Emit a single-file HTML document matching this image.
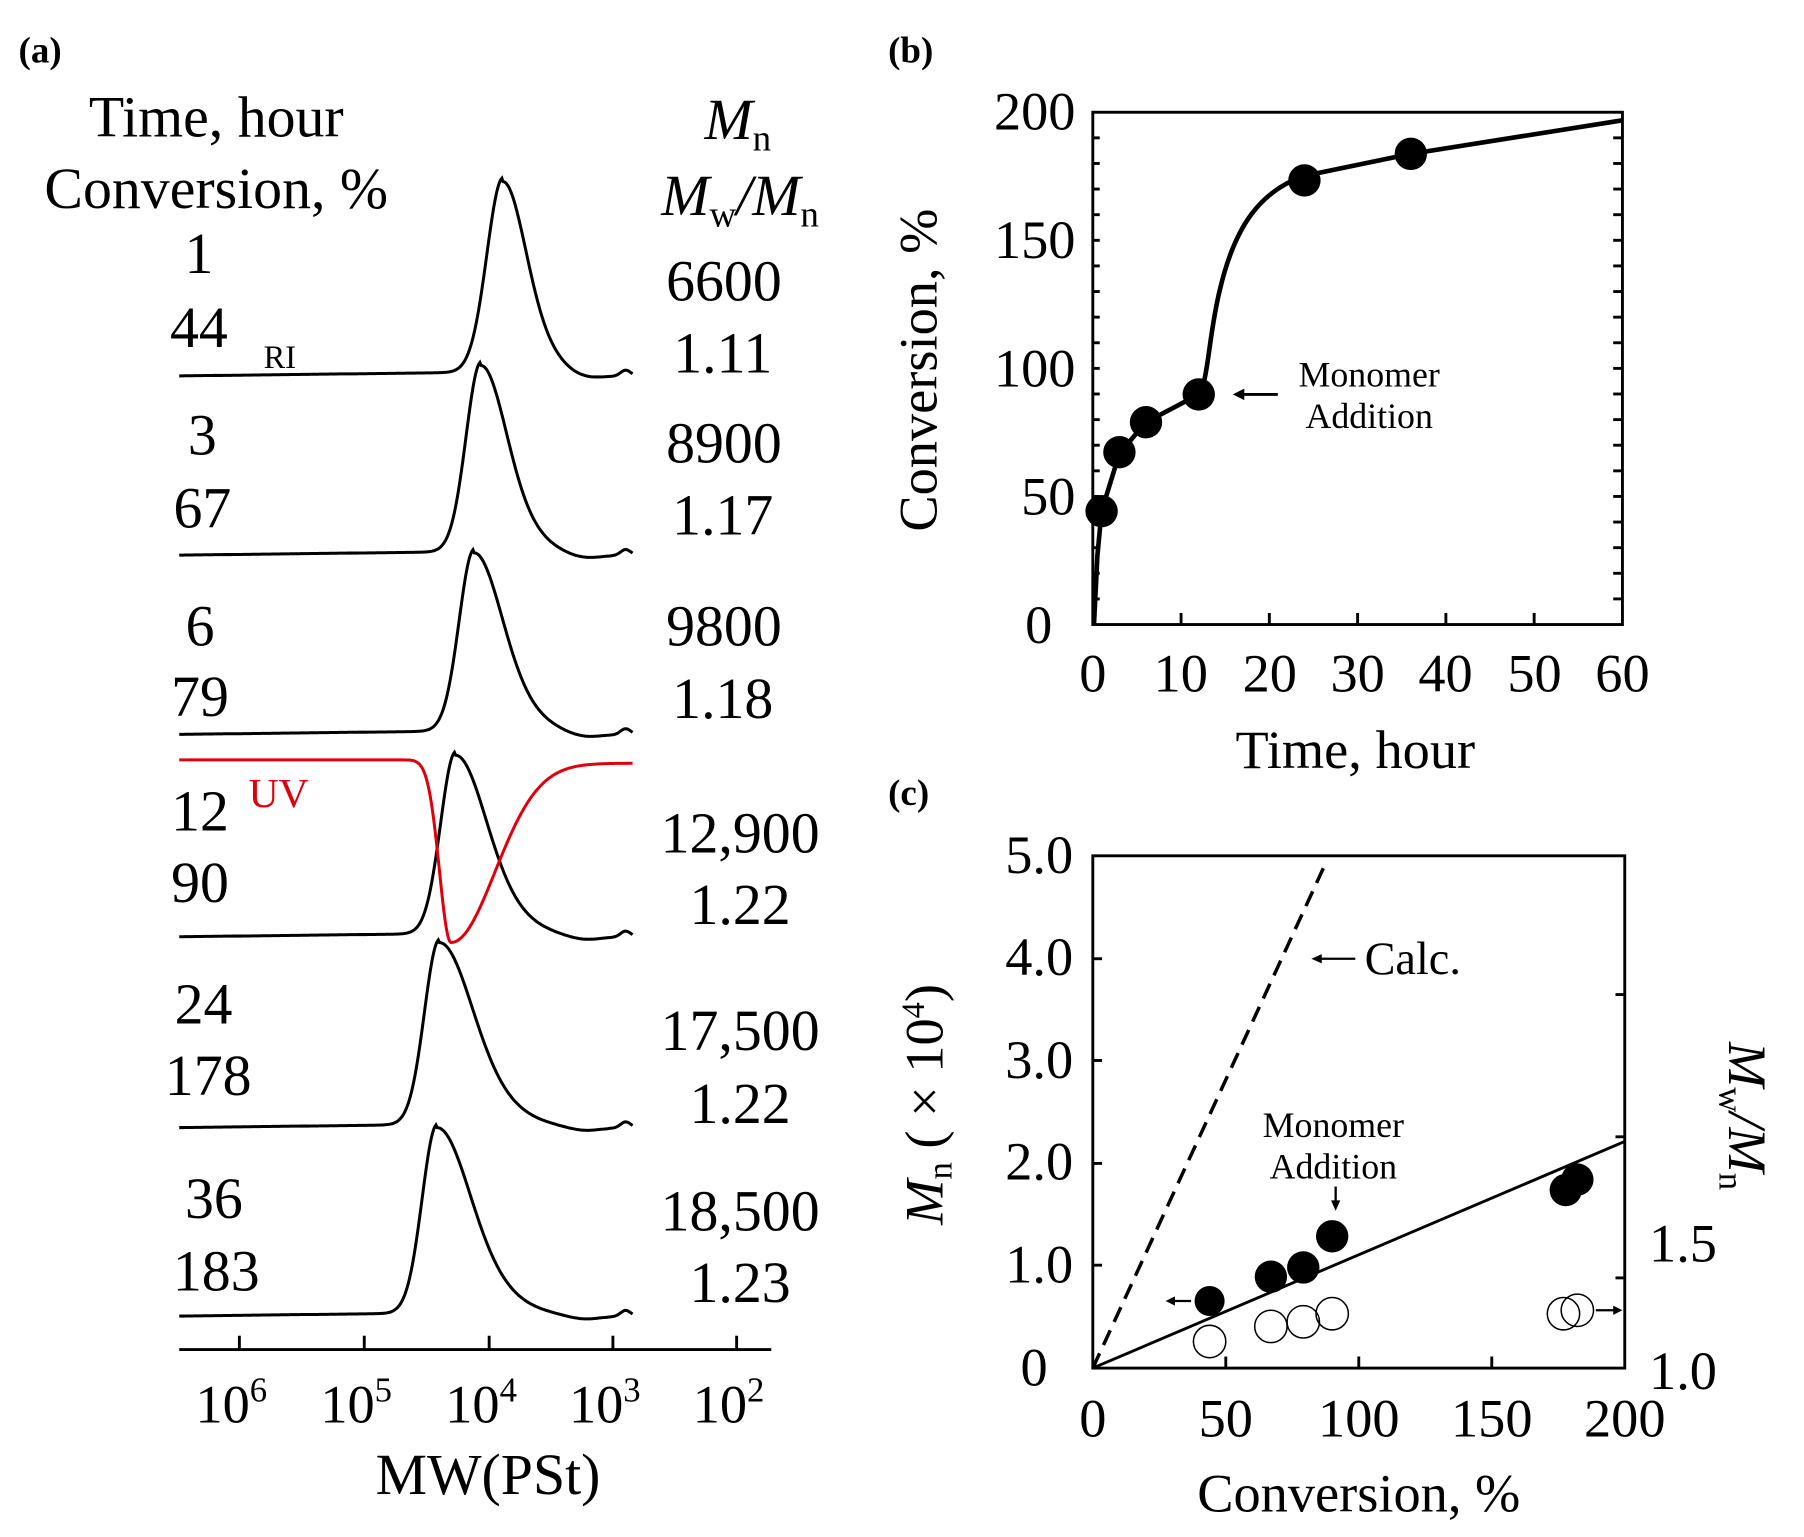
<!DOCTYPE html>
<html><head><meta charset="utf-8"><style>
html,body{margin:0;padding:0;background:#fff;}
svg{display:block;}
text{font-family:"Liberation Serif",serif;fill:#000;}
</style></head><body>
<svg id="s" width="1804" height="1537" viewBox="0 0 1560 1329" xmlns="http://www.w3.org/2000/svg">
<g id="traces" fill="none" stroke="#000" stroke-width="2.6"></g>
<text x="16" y="54" font-size="32" font-weight="bold">(a)</text>
<text x="768" y="54" font-size="32" font-weight="bold">(b)</text>
<text x="768" y="696" font-size="32" font-weight="bold">(c)</text>
<g font-size="50" text-anchor="middle">
<text x="187" y="118">Time, hour</text>
<text x="187" y="180">Conversion, %</text>
<text x="172" y="236">1</text><text x="172" y="300">44</text>
<text x="175" y="393">3</text><text x="175" y="456">67</text>
<text x="173" y="558">6</text><text x="173" y="619">79</text>
<text x="173" y="718">12</text><text x="173" y="780">90</text>
<text x="176" y="885">24</text><text x="180" y="947">178</text>
<text x="185" y="1053">36</text><text x="187" y="1116">183</text>
<text x="626" y="260">6600</text><text x="625" y="322">1.11</text>
<text x="626" y="400">8900</text><text x="625" y="462">1.17</text>
<text x="626" y="558">9800</text><text x="625" y="621">1.18</text>
<text x="640" y="737">12,900</text><text x="640" y="799">1.22</text>
<text x="640" y="908">17,500</text><text x="640" y="971">1.22</text>
<text x="640" y="1064">18,500</text><text x="640" y="1126">1.23</text>
<text x="638" y="120" font-style="italic">M<tspan font-size="32" dy="10" font-style="normal">n</tspan></text>
<text x="640" y="186" font-style="italic">M<tspan font-size="32" dy="10" font-style="normal">w</tspan><tspan dy="-10">/M</tspan><tspan font-size="32" dy="10" font-style="normal">n</tspan></text>
<text x="422" y="1292">MW(PSt)</text>
</g>
<text x="228" y="318" font-size="28">RI</text>
<text x="215" y="698" font-size="36" style="fill:#e0000b">UV</text>
<g stroke="#000" stroke-width="2.5">
<line x1="155" y1="1167" x2="667" y2="1167"/>
<line x1="207" y1="1167" x2="207" y2="1155"/><line x1="315" y1="1167" x2="315" y2="1155"/>
<line x1="423" y1="1167" x2="423" y2="1155"/><line x1="530" y1="1167" x2="530" y2="1155"/>
<line x1="637" y1="1167" x2="637" y2="1155"/>
</g>
<g font-size="47" text-anchor="middle">
<text x="200" y="1230">10<tspan font-size="30" dy="-18">6</tspan></text>
<text x="308" y="1230">10<tspan font-size="30" dy="-18">5</tspan></text>
<text x="416" y="1230">10<tspan font-size="30" dy="-18">4</tspan></text>
<text x="523" y="1230">10<tspan font-size="30" dy="-18">3</tspan></text>
<text x="630" y="1230">10<tspan font-size="30" dy="-18">2</tspan></text>
</g>
<g id="pb" stroke="#000" stroke-width="2.5" fill="none">
<rect x="945" y="97" width="458" height="443"/>
</g>
<g font-size="47" text-anchor="end">
<text x="930" y="112">200</text><text x="930" y="223">150</text><text x="930" y="334">100</text>
<text x="930" y="445">50</text><text x="910" y="556">0</text>
</g>
<g font-size="47" text-anchor="middle">
<text x="945" y="598">0</text><text x="1021" y="598">10</text><text x="1098" y="598">20</text>
<text x="1174" y="598">30</text><text x="1250" y="598">40</text><text x="1327" y="598">50</text><text x="1403" y="598">60</text>
<text x="1172" y="664">Time, hour</text>
<text transform="translate(810,320) rotate(-90)">Conversion, %</text>
</g>
<path d="M946,540 L949,480 L952.6,442 L968,392 L991,365 L1036.6,341 C1045,330 1045,290 1055,250 C1068,195 1090,165 1128,152 L1220,133 L1403,104" fill="none" stroke="#000" stroke-width="4"/>
<g fill="#000">
<circle cx="952.6" cy="442" r="14"/><circle cx="968" cy="391" r="14"/><circle cx="991" cy="365" r="14"/>
<circle cx="1036.6" cy="341" r="14"/><circle cx="1128" cy="156" r="14"/><circle cx="1220" cy="133" r="14"/>
</g>
<g font-size="31" text-anchor="middle">
<text x="1184" y="334">Monomer</text><text x="1184" y="370">Addition</text>
</g>
<line x1="1105" y1="341" x2="1072" y2="341" stroke="#000" stroke-width="2.5"/>
<path d="M1066,341 L1076,336 L1076,346 Z" fill="#000"/>
<g id="pc" stroke="#000" stroke-width="2.5" fill="none">
<rect x="945" y="740" width="460" height="443"/>
<line x1="945" y1="1183" x2="1405" y2="987"/>
<line x1="945" y1="1183" x2="1147" y2="745" stroke-dasharray="14,8" stroke-width="3"/>
</g>
<g fill="#000">
<circle cx="1046" cy="1125" r="13"/><circle cx="1099" cy="1104" r="14"/><circle cx="1127" cy="1096" r="14"/>
<circle cx="1152" cy="1069" r="14"/><circle cx="1354" cy="1029" r="14"/><circle cx="1364" cy="1020" r="14"/>
</g>
<g fill="none" stroke="#000" stroke-width="1.3">
<circle cx="1046" cy="1160" r="14"/><circle cx="1099" cy="1147" r="14"/><circle cx="1127" cy="1143" r="14"/>
<circle cx="1152" cy="1136" r="14"/><circle cx="1352" cy="1136" r="14"/><circle cx="1364" cy="1133" r="14"/>
</g>
<g stroke="#000" stroke-width="2">
<line x1="1030" y1="1125" x2="1014" y2="1125"/><line x1="1380" y1="1133" x2="1396" y2="1133"/>
<line x1="1155" y1="1026" x2="1155" y2="1042"/>
<line x1="1172" y1="829" x2="1140" y2="829"/>
</g>
<g fill="#000">
<path d="M1008,1125 L1016,1121 L1016,1129 Z"/><path d="M1403,1133 L1395,1129 L1395,1137 Z"/>
<path d="M1155,1047 L1151,1038 L1159,1038 Z"/><path d="M1134,829 L1143,825 L1143,833 Z"/>
</g>
<text x="1180" y="842" font-size="40">Calc.</text>
<g font-size="31" text-anchor="middle">
<text x="1153" y="983">Monomer</text><text x="1153" y="1019">Addition</text>
</g>
<g font-size="47" text-anchor="end">
<text x="928" y="755">5.0</text><text x="928" y="843">4.0</text><text x="928" y="932">3.0</text>
<text x="928" y="1020">2.0</text><text x="928" y="1109">1.0</text><text x="906" y="1198">0</text>
</g>
<g font-size="47">
<text x="1426" y="1091">1.5</text><text x="1426" y="1201">1.0</text>
</g>
<g font-size="47" text-anchor="middle">
<text x="945" y="1242">0</text><text x="1060" y="1242">50</text><text x="1175" y="1242">100</text>
<text x="1290" y="1242">150</text><text x="1405" y="1242">200</text>
<text x="1175" y="1307">Conversion, %</text>
<text transform="translate(815,955) rotate(-90)"><tspan font-style="italic">M</tspan><tspan font-size="30" dy="8">n</tspan><tspan dy="-8"> ( × 10</tspan><tspan font-size="28" dy="-16">4</tspan><tspan dy="16">)</tspan></text>
<text transform="translate(1495,965) rotate(90)"><tspan font-style="italic">M</tspan><tspan font-size="30" dy="8">w</tspan><tspan dy="-8" font-style="italic">/M</tspan><tspan font-size="30" dy="8">n</tspan></text>
</g>
</svg>
<script>
(function(){
var NS="http://www.w3.org/2000/svg";
var g=document.getElementById('traces');
function add(d,col){var p=document.createElementNS(NS,'path');p.setAttribute('d',d);if(col)p.setAttribute('stroke',col);g.appendChild(p);}
function tr(base,px,py,sl,sr){
  var H=base-py,d='';
  for(var x=155;x<=547;x+=1){
    var s=x<px?sl:sr, u=(x-px)/s, f=Math.exp(-u*u/2);
    if(x>px){var v=(x-px)/(sr*1.6);f=0.6*Math.exp(-u*u/2)+0.4*Math.exp(-v*v/2);}
    var y=base-H*f - (x<px?(x-155)*0.012:0);
    y+= (x>px? 3*Math.exp(-Math.pow((x-505)/20,2)):0);
    y-= 5*Math.exp(-Math.pow((x-541)/6,2));
    d+=(d?'L':'M')+x+','+y.toFixed(1);
  }
  add(d);
}
tr(325,435,157,14,18);
tr(480,416,316,13,20);
tr(635,410,478,13,22);
tr(810,394,653,13,24);
tr(975,380,815,13,26);
tr(1138,378,975,13,26);
var d='';
for(var x=155;x<=547;x++){
  var s=x<390?10:38,u=(x-390)/s,b=x<390?657:660;
  var y=b+(815-b)*Math.exp(-u*u/2);
  d+=(d?'L':'M')+x+','+y.toFixed(1);
}
add(d,'#e0000b');
var pb=document.getElementById('pb');
function ln(par,x1,y1,x2,y2){var l=document.createElementNS(NS,'line');l.setAttribute('x1',x1);l.setAttribute('y1',y1);l.setAttribute('x2',x2);l.setAttribute('y2',y2);par.appendChild(l);}
for(var i=1;i<6;i++){var x=945+i*76.33;ln(pb,x,540,x,530);}
for(var i=1;i<20;i++){var y=540-i*22.15;ln(pb,1403,y,1395,y);ln(pb,945,y,951,y);}
var pc=document.getElementById('pc');
[1060,1175,1290].forEach(function(x){ln(pc,x,1183,x,1173);});
[829,917,1006,1094].forEach(function(y){ln(pc,945,y,953,y);});
[860,983,1105].forEach(function(y){ln(pc,1405,y,1397,y);});
})();
</script>
</body></html>
